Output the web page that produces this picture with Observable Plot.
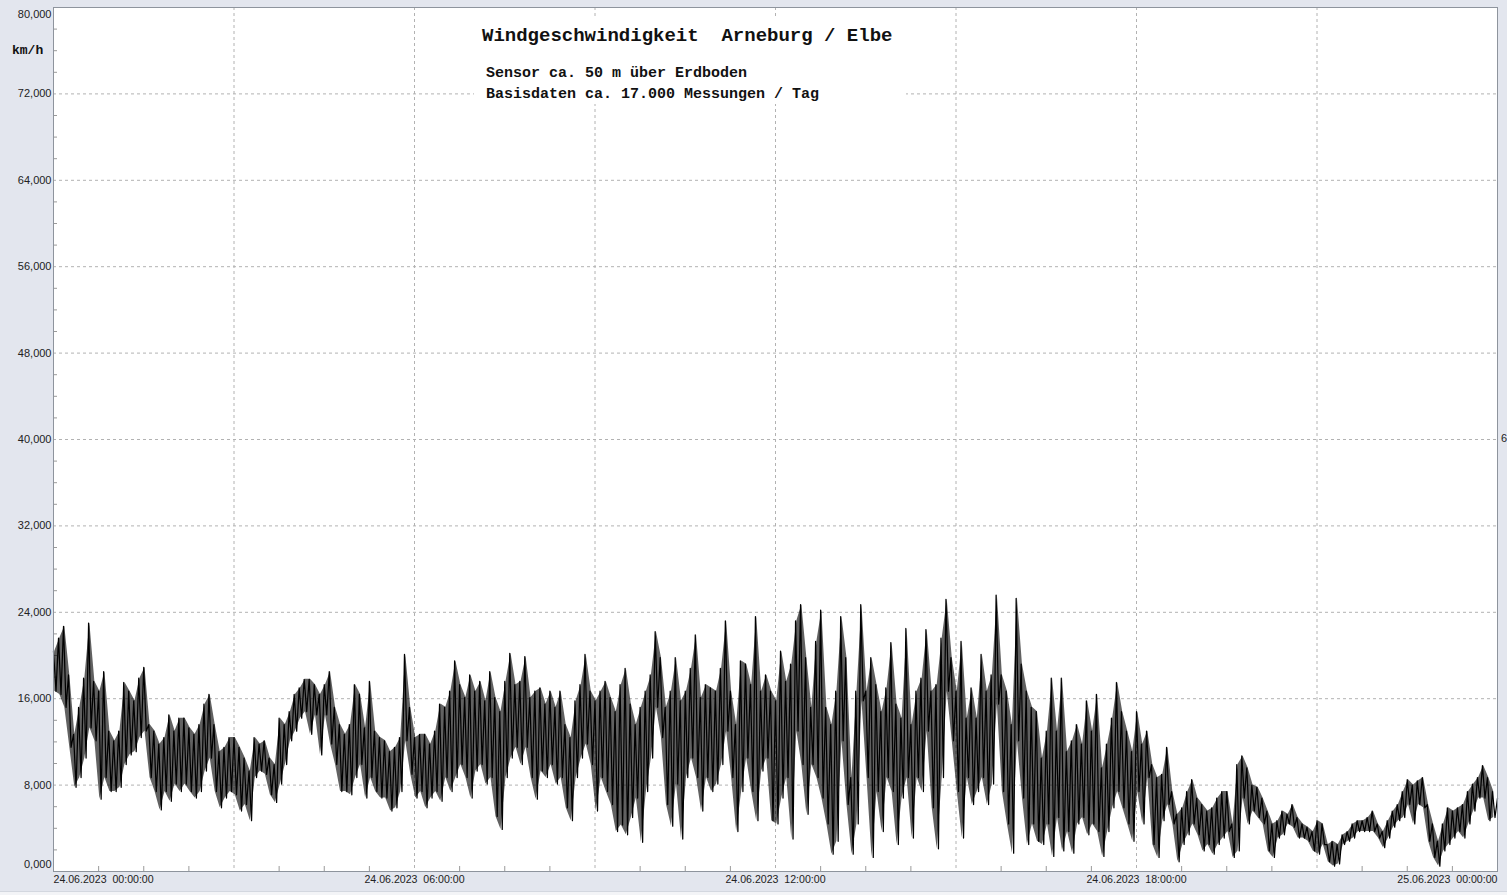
<!DOCTYPE html>
<html>
<head>
<meta charset="utf-8">
<script src="https://cdn.jsdelivr.net/npm/d3@7"></script>
<script src="https://cdn.jsdelivr.net/npm/@observablehq/plot@0.6"></script>
<style>
html,body{margin:0;padding:0;background:#e3e6ee;}
#wrap{position:relative;width:1507px;height:895px;overflow:hidden;background:#e3e6ee;}
#wrap svg{position:absolute;left:0;top:0;}
#wrap svg text{white-space:pre;}
.box{position:absolute;left:474px;top:18px;width:432px;height:86px;background:#fff;}
.mono{position:absolute;font-family:"Liberation Mono","DejaVu Sans Mono",monospace;font-weight:bold;color:#111;white-space:pre;line-height:1;}
#strip{position:absolute;left:0;top:891px;width:1507px;height:4px;background:#f3f4f7;border-top:1px solid #d3d7df;}
#six{position:absolute;left:1501px;top:432px;font:11px "Liberation Sans",Arial,sans-serif;color:#222;}
</style>
</head>
<body>
<div id="wrap">
  <div id="chart"></div>
  <div class="box"></div>
  <div class="mono" style="left:482px;top:27px;font-size:19px;">Windgeschwindigkeit  Arneburg / Elbe</div>
  <div class="mono" style="left:486px;top:66px;font-size:15px;">Sensor ca. 50 m über Erdboden</div>
  <div class="mono" style="left:486px;top:87px;font-size:15px;">Basisdaten ca. 17.000 Messungen / Tag</div>
  <div class="mono" style="left:12px;top:44px;font-size:13px;">km/h</div>
  <div id="six">6</div>
  <div id="strip"></div>
</div>
<script>
// ---- data (km/h), sampled every 5 minutes from 24.06.2023 00:00 ----
// upper envelope (peak) readings at hh:m0 / hh:m5
const hiValues = [
  // 00:00 - 06:00
  20.4, 21.6, 22.7, 18.2, 12.7, 15.2, 17.9, 23.0, 17.6, 16.7, 18.5, 13.0,
  12.1, 13.0, 17.5, 16.7, 15.8, 17.9, 18.9, 13.6, 13.0, 11.8, 12.4, 14.5,
  13.0, 14.2, 14.2, 13.3, 12.7, 13.6, 15.5, 16.4, 13.6, 11.1, 11.5, 12.4,
  12.4, 11.5, 10.5, 9.3, 12.4, 11.8, 12.1, 10.5, 9.9, 14.2, 13.6, 14.8,
  16.4, 17.0, 17.8, 17.8, 17.3, 16.4, 17.3, 18.5, 15.2, 13.6, 12.7, 13.6,
  17.3, 16.4, 13.3, 17.6, 13.0, 12.4, 12.1, 11.1, 11.5, 12.4, 20.1, 15.2,
  // 06:00 - 12:00
  12.4, 12.7, 12.7, 11.8, 13.0, 15.5, 15.2, 16.7, 19.5, 17.3, 16.1, 18.2,
  16.7, 17.6, 15.8, 18.5, 16.1, 14.8, 17.6, 20.2, 17.3, 17.6, 19.9, 16.1,
  16.7, 17.0, 15.5, 16.7, 15.2, 16.7, 13.6, 12.4, 15.8, 17.3, 20.1, 16.7,
  15.8, 16.7, 17.6, 16.1, 14.8, 17.3, 18.8, 15.5, 13.6, 15.2, 16.7, 18.2,
  22.2, 19.8, 15.2, 16.7, 19.8, 15.8, 16.7, 18.8, 21.9, 16.1, 17.3, 17.0,
  16.7, 18.8, 23.2, 16.7, 13.6, 19.5, 19.2, 17.3, 23.6, 16.7, 18.2, 16.7,
  // 12:00 - 18:00
  15.8, 20.4, 17.6, 19.2, 23.2, 24.7, 19.8, 15.2, 21.3, 24.2, 15.2, 13.6,
  16.7, 23.6, 19.8, 8.7, 16.7, 24.7, 16.7, 19.8, 17.3, 14.8, 17.0, 21.2,
  15.5, 14.2, 22.5, 13.6, 16.7, 17.9, 22.4, 16.7, 17.3, 21.6, 25.2, 19.8,
  16.7, 21.3, 14.2, 17.0, 14.2, 20.1, 16.7, 18.2, 25.6, 18.2, 16.7, 13.6,
  25.3, 19.2, 16.7, 15.2, 14.8, 10.5, 13.0, 17.9, 13.0, 17.9, 11.1, 12.1,
  13.6, 11.8, 15.8, 13.0, 16.4, 9.6, 11.8, 14.2, 17.5, 14.8, 13.0, 11.1,
  // 18:00 - 24:00
  14.8, 11.8, 13.0, 9.9, 8.7, 9.0, 11.5, 7.4, 5.3, 5.9, 7.4, 8.5,
  6.8, 6.2, 5.6, 5.9, 6.8, 7.4, 7.4, 4.4, 9.9, 10.7, 9.6, 8.0,
  7.8, 6.8, 5.6, 4.4, 4.7, 5.6, 5.3, 6.2, 5.0, 4.4, 4.1, 3.7,
  4.7, 4.4, 2.5, 2.8, 2.5, 3.4, 3.7, 4.4, 4.7, 4.7, 5.0, 5.6,
  4.4, 3.7, 4.7, 5.6, 6.2, 7.4, 8.5, 8.0, 8.4, 8.7, 6.2, 4.4,
  2.8, 4.4, 5.9, 5.6, 5.9, 6.2, 7.4, 8.1, 8.7, 9.8, 8.7, 7.4,
  6.8
];
// lower envelope (trough) readings at hh:m2:30 / hh:m7:30
const loValues = [
  // 00:00 - 06:00
  16.7, 16.4, 15.2, 11.5, 7.8, 8.7, 10.5, 13.3, 12.1, 6.7, 8.7, 7.4,
  7.4, 7.8, 9.9, 10.8, 11.1, 12.4, 13.0, 8.7, 7.4, 5.7, 7.4, 6.5,
  8.1, 7.4, 8.1, 7.4, 6.8, 7.4, 9.3, 10.5, 7.4, 5.9, 6.8, 7.4,
  7.1, 5.6, 6.2, 4.7, 8.7, 9.3, 9.0, 7.1, 6.4, 8.1, 9.9, 12.1,
  13.0, 14.2, 14.8, 12.7, 14.5, 10.8, 14.5, 11.8, 9.9, 7.4, 7.4, 7.1,
  8.7, 9.9, 6.8, 8.7, 7.4, 6.8, 6.8, 5.6, 5.9, 7.4, 12.1, 9.0,
  // 06:00 - 12:00
  6.8, 7.4, 5.9, 6.8, 7.4, 6.5, 8.7, 7.4, 8.7, 9.9, 8.7, 6.8,
  9.3, 9.9, 8.1, 8.7, 5.1, 3.9, 8.7, 10.5, 11.5, 9.9, 11.5, 8.7,
  6.7, 9.3, 8.7, 9.9, 8.1, 8.7, 5.9, 4.7, 8.7, 10.5, 11.8, 9.9,
  5.6, 8.7, 7.4, 6.2, 3.7, 4.3, 3.4, 5.0, 6.8, 2.7, 7.4, 10.5,
  15.2, 12.4, 6.2, 4.2, 8.1, 3.0, 8.7, 10.5, 8.7, 5.6, 8.7, 7.4,
  8.1, 9.9, 13.0, 8.7, 3.7, 7.4, 10.5, 7.4, 4.7, 9.3, 10.5, 4.7,
  // 12:00 - 18:00
  4.4, 6.8, 8.7, 3.0, 13.0, 9.9, 5.3, 9.9, 8.7, 6.8, 4.4, 1.6,
  2.8, 12.1, 6.2, 1.6, 4.4, 15.8, 8.7, 1.3, 7.4, 3.7, 8.7, 7.4,
  2.5, 6.8, 8.7, 3.1, 8.7, 7.4, 13.0, 5.9, 2.1, 8.7, 16.7, 12.1,
  7.4, 3.1, 8.7, 6.2, 7.4, 8.7, 6.2, 8.1, 15.5, 7.4, 4.4, 1.7,
  12.1, 6.8, 2.5, 4.4, 2.8, 2.5, 4.4, 1.4, 5.0, 1.9, 3.7, 1.7,
  4.4, 5.0, 3.4, 4.4, 3.7, 1.4, 3.7, 5.9, 7.4, 5.9, 4.4, 2.8,
  // 18:00 - 24:00
  7.4, 4.4, 8.7, 2.5, 1.3, 4.7, 6.2, 4.4, 0.9, 2.5, 3.4, 4.4,
  3.4, 1.9, 2.5, 1.6, 2.5, 3.1, 3.7, 1.3, 1.9, 6.8, 4.4, 5.6,
  5.0, 4.4, 1.9, 1.3, 3.1, 3.4, 4.4, 4.1, 3.1, 3.1, 2.8, 1.9,
  1.6, 2.5, 0.9, 0.5, 0.7, 2.5, 2.8, 3.1, 3.7, 3.7, 3.7, 3.7,
  3.1, 2.2, 3.1, 4.1, 4.7, 5.0, 6.2, 4.4, 6.2, 5.9, 2.8, 1.3,
  0.5, 1.9, 2.5, 3.1, 3.7, 3.1, 4.4, 5.6, 6.8, 6.8, 4.7, 5.0
];
const yMajorTicks = [0, 8, 16, 24, 32, 40, 48, 56, 64, 72, 80];
const xMajorHours = [3, 6, 9, 12, 15, 18, 21];
const xLabelHours = [0, 6, 12, 18, 24];

// ---- build ----
const t0 = new Date(Date.UTC(2023, 5, 24, 0, 0, 0));
const hour = 3600 * 1000;
const at = h => new Date(+t0 + h * hour);
const t1 = at(24);
const stepMs = 5 * 60 * 1000;
const series = [];
hiValues.forEach((v, i) => {
  series.push({t: new Date(+t0 + i * stepMs), v});
  if (i < loValues.length) series.push({t: new Date(+t0 + i * stepMs + stepMs / 2), v: loValues[i]});
});
// envelope band (read peaks and troughs) shown as the dense scribble body
const band = loValues.map((lo, i) => ({t: new Date(+t0 + i * stepMs + stepMs / 4), lo, hi: hiValues[i]}));
const yMinor = d3.range(0, 81, 2).filter(v => v % 8 !== 0);
const xMinor = d3.range(1, 32).map(k => at(k * 0.75)).filter((d, k) => (k + 1) % 4 !== 0);
const fmtY = v => v.toFixed(3).replace(".", ",");
const fmtX = d3.utcFormat("%d.%m.%Y  %H:%M:%S");
const gridStyle = {stroke: "#b2b2b2", strokeOpacity: 1, strokeDasharray: "3,3", strokeWidth: 1};
const labelFont = {fontFamily: "'Liberation Sans', Arial, sans-serif", fill: "#222"};

const chart = Plot.plot({
  width: 1507, height: 895,
  marginLeft: 53, marginRight: 10, marginTop: 7, marginBottom: 24,
  style: {background: "transparent", overflow: "visible"},
  x: {type: "utc", domain: [t0, t1], axis: null},
  y: {domain: [0, 80], axis: null},
  marks: [
    Plot.frame({fill: "white", stroke: "none"}),
    Plot.gridY(yMajorTicks.filter(v => v > 0 && v < 80), gridStyle),
    Plot.gridX(xMajorHours.map(at), gridStyle),
    Plot.axisY({anchor: "left", ticks: yMinor, tickSize: -4, tickFormat: () => "", label: null, stroke: "#9a9a9a"}),
    Plot.axisX({anchor: "bottom", ticks: xMinor, tickSize: -5, tickFormat: () => "", label: null, stroke: "#9a9a9a"}),
    Plot.areaY(band, {x: "t", y1: "lo", y2: "hi", fill: "#000", fillOpacity: 0.62}),
    Plot.line(series, {x: "t", y: "v", stroke: "#000", strokeWidth: 1.25}),
    Plot.frame({stroke: "#8e949d"}),
    Plot.text(yMajorTicks.filter(v => v > 0 && v < 80), {y: d => d, text: fmtY, frameAnchor: "left", textAnchor: "end", dx: -2, fontSize: 11, ...labelFont}),
    Plot.text([80], {y: d => d, text: fmtY, frameAnchor: "left", textAnchor: "end", dx: -2, dy: 7, fontSize: 11, ...labelFont}),
    Plot.text([0], {y: d => d, text: fmtY, frameAnchor: "left", textAnchor: "end", dx: -2, dy: -7, fontSize: 11, ...labelFont}),
    Plot.text([xLabelHours[0]], {x: at, text: h => fmtX(at(h)), frameAnchor: "bottom", dy: 11, textAnchor: "start", fontSize: 10.6, ...labelFont}),
    Plot.text(xLabelHours.slice(1, -1), {x: at, text: h => fmtX(at(h)), frameAnchor: "bottom", dy: 11, textAnchor: "middle", fontSize: 10.6, ...labelFont}),
    Plot.text([xLabelHours[xLabelHours.length - 1]], {x: at, text: h => fmtX(at(h)), frameAnchor: "bottom", dy: 11, textAnchor: "end", fontSize: 10.6, ...labelFont})
  ]
});
document.getElementById("chart").appendChild(chart);
</script>
</body>
</html>
